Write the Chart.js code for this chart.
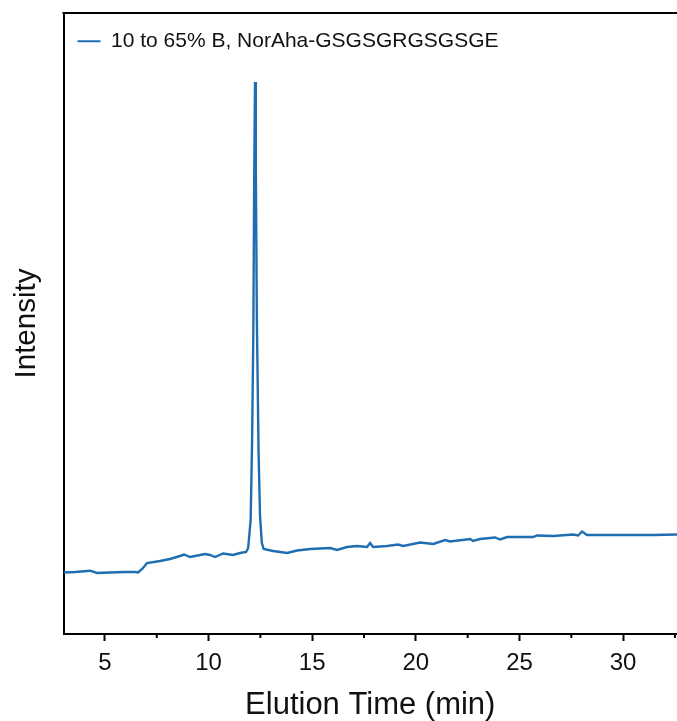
<!DOCTYPE html>
<html>
<head>
<meta charset="utf-8">
<script src="https://cdn.jsdelivr.net/npm/chart.js@4.4.1/dist/chart.umd.min.js"></script>
<style>
  html, body { margin: 0; padding: 0; background: #ffffff; }
  #wrap { width: 677px; height: 721px; position: relative; }
</style>
</head>
<body>
<div id="wrap"><canvas id="c"></canvas></div>
<script>
// Elution time (min)
const elutionTime = [
  3.00, 3.55, 4.28, 4.62, 5.24, 5.97, 6.45, 6.60, 6.84, 7.03,
  7.66, 8.14, 8.62, 8.82, 9.11, 9.59, 9.83, 10.07, 10.31, 10.70,
  11.18, 11.52, 11.81, 11.91, 12.03, 12.10, 12.16, 12.20, 12.24, 12.28,
  12.33, 12.41, 12.48, 12.57, 12.66, 13.11, 13.79, 14.27, 14.90, 15.38,
  15.86, 16.20, 16.68, 17.17, 17.65, 17.79, 17.94, 18.61, 19.14, 19.39,
  20.21, 20.84, 21.41, 21.65, 22.62, 22.76, 23.10, 23.82, 24.07, 24.40,
  25.66, 25.85, 26.62, 27.59, 27.83, 28.02, 28.26, 29.23, 31.45, 32.60
];
// Intensity (arbitrary units)
const intensity = [
  61.5, 62.0, 63.3, 61.0, 61.5, 62.0, 62.0, 61.5, 66.0, 71.0,
  73.0, 75.0, 78.0, 79.5, 77.0, 79.0, 80.0, 79.0, 77.0, 80.5,
  79.0, 81.0, 82.0, 86.0, 114.0, 194.0, 304.0, 454.0, 552.0, 464.0,
  314.0, 184.0, 119.0, 91.0, 85.0, 83.0, 81.0, 83.5, 85.0, 85.5,
  86.0, 84.0, 87.0, 88.0, 87.0, 91.0, 87.0, 88.0, 89.5, 88.0,
  91.5, 90.0, 94.0, 92.5, 95.0, 93.0, 95.0, 96.5, 94.5, 97.0,
  97.0, 98.5, 98.0, 99.5, 98.5, 102.5, 99.0, 99.0, 99.0, 99.5
];
const seriesLabel = '10 to 65% B, NorAha-GSGSGRGSGSGE';
const xMajorTicks = [5, 10, 15, 20, 25, 30];
const xMinorTicks = [7.5, 12.5, 17.5, 22.5, 27.5, 32.5];
const xRange = [3, 32.6];
const yRange = [0, 621];

const FONT = "'Liberation Sans', Arial, Helvetica, sans-serif";
const LINE_COLOR = '#1f6eb2';

const framePlugin = {
  id: 'frame',
  afterDraw(chart) {
    const ctx = chart.ctx;
    const a = chart.chartArea;
    const xs = chart.scales.x;
    ctx.save();
    ctx.strokeStyle = '#000';
    ctx.lineWidth = 2;
    ctx.beginPath();
    ctx.moveTo(a.left - 1, a.top);
    ctx.lineTo(a.right, a.top);
    ctx.stroke();
    xMinorTicks.forEach(v => {
      const px = xs.getPixelForValue(v);
      if (px < a.left || px > a.right + 1) return;
      ctx.beginPath();
      ctx.moveTo(px, a.bottom);
      ctx.lineTo(px, a.bottom + 4);
      ctx.stroke();
    });
    ctx.restore();
  }
};

new Chart(document.getElementById('c'), {
  type: 'line',
  data: {
    datasets: [{
      label: seriesLabel,
      data: elutionTime.map((t, i) => ({ x: t, y: intensity[i] })),
      borderColor: LINE_COLOR,
      backgroundColor: LINE_COLOR,
      borderWidth: 2.4,
      pointRadius: 0,
      tension: 0,
      fill: false
    }]
  },
  options: {
    responsive: true,
    maintainAspectRatio: false,
    animation: false,
    layout: { padding: { left: 0, right: 0, top: 13, bottom: 0 } },
    plugins: {
      legend: {
        position: 'chartArea',
        align: 'start',
        title: {
          display: true,
          text: ' ',
          padding: 0,
          font: { family: FONT, size: 14 }
        },
        labels: {
          boxWidth: 23,
          boxHeight: 2,
          padding: 14,
          color: '#111',
          font: { family: FONT, size: 21 },
          generateLabels: chart => Chart.defaults.plugins.legend.labels
            .generateLabels(chart)
            .map(item => Object.assign(item, { lineWidth: 0, strokeStyle: 'rgba(0,0,0,0)' }))
        }
      },
      tooltip: { enabled: false }
    },
    scales: {
      x: {
        type: 'linear',
        min: xRange[0],
        max: xRange[1],
        afterBuildTicks: s => { s.ticks = xMajorTicks.map(v => ({ value: v })); },
        afterFit: s => { s.height = 87; },
        grid: {
          display: true,
          drawOnChartArea: false,
          drawTicks: true,
          tickLength: 7,
          tickWidth: 2,
          tickColor: '#000'
        },
        border: { display: true, color: '#000', width: 2 },
        ticks: {
          color: '#111',
          padding: 8,
          maxRotation: 0,
          font: { family: FONT, size: 24 }
        },
        title: {
          display: true,
          text: 'Elution Time (min)',
          color: '#111',
          padding: { top: 0, bottom: 0 },
          font: { family: FONT, size: 31, lineHeight: 1.0 }
        }
      },
      y: {
        type: 'linear',
        min: yRange[0],
        max: yRange[1],
        afterFit: s => { s.width = 63.5; },
        grid: { display: false },
        border: { display: true, color: '#000', width: 2 },
        ticks: { display: false },
        title: {
          display: true,
          text: 'Intensity',
          color: '#111',
          padding: { top: 9, bottom: 0 },
          font: { family: FONT, size: 29.5 }
        }
      }
    }
  },
  plugins: [framePlugin]
});
</script>
</body>
</html>
